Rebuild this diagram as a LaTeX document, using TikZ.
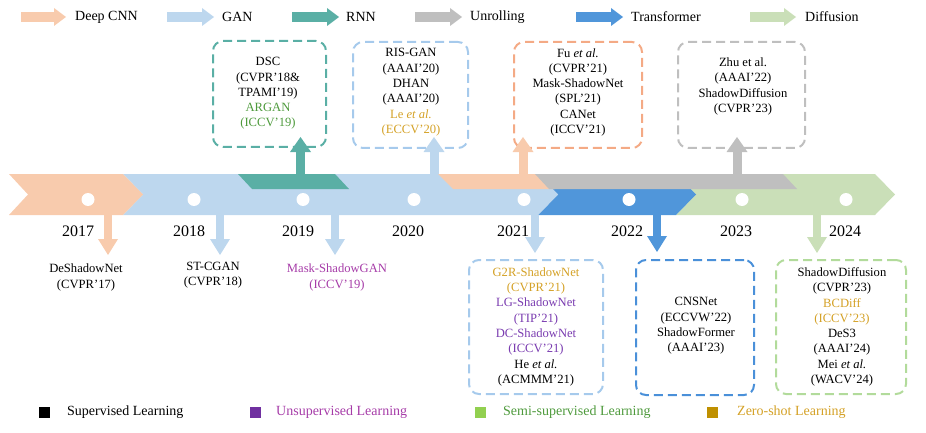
\documentclass[tikz,border=0pt]{standalone}
\usepackage{fontspec}
\setmainfont{Liberation Serif}
\usetikzlibrary{arrows.meta}
\definecolor{cnn}{HTML}{F8CBAD}
\definecolor{gan}{HTML}{BDD7EE}
\definecolor{rnn}{HTML}{5AAFA5}
\definecolor{unr}{HTML}{BFBFBF}
\definecolor{trf}{HTML}{5096DA}
\definecolor{dif}{HTML}{CADFB8}
\definecolor{cnnB}{HTML}{F4AA85}
\definecolor{ganB}{HTML}{A6CAEC}
\definecolor{trfB}{HTML}{4A90D9}
\definecolor{difB}{HTML}{B2DB9B}
\definecolor{unsup}{HTML}{A63CA8}
\definecolor{unsupSq}{HTML}{7030A0}
\definecolor{semi}{HTML}{4E9A3C}
\definecolor{semiSq}{HTML}{92D050}
\definecolor{zero}{HTML}{D4A126}
\definecolor{zeroSq}{HTML}{BF9000}
\definecolor{purp}{HTML}{7A3CB0}
\begin{document}
\begin{tikzpicture}[x=1pt,y=-1pt,
  boxframe/.style={draw, line width=2pt, dash pattern=on 9pt off 5pt, rounded corners=10pt, inner sep=0pt},
  boxtext/.style={align=center, inner sep=0pt, font=\fontsize{12.6}{15.3}\selectfont},
  yeartext/.style={inner sep=0pt, font=\fontsize{16}{18}\selectfont},
  legtext/.style={anchor=west, inner sep=0pt, font=\fontsize{14}{16}\selectfont},
  uparrow/.style={line width=9pt, -{Triangle[width=21pt,length=15pt,line width=0pt]}},
  downarrow/.style={line width=8.5pt, -{Triangle[width=20pt,length=16pt,line width=0pt]}},
  legarrow/.style={line width=10pt, -{Triangle[width=18pt,length=12pt,line width=0pt]}},
  sq/.style={minimum size=11pt, inner sep=0pt},
  dot/.style={circle, fill=white, minimum size=13pt, inner sep=0pt}]
\useasboundingbox (0,0) rectangle (926,433);

% ---------- top legend ----------
\coordinate (l1a) at (21,17);  \coordinate (l1b) at (66,17);
\coordinate (l2a) at (167,17); \coordinate (l2b) at (214,17);
\coordinate (l3a) at (292,17); \coordinate (l3b) at (339,17);
\coordinate (l4a) at (415,17); \coordinate (l4b) at (462,17);
\coordinate (l5a) at (576,17); \coordinate (l5b) at (623,17);
\coordinate (l6a) at (750,17); \coordinate (l6b) at (796,17);
\draw[legarrow, cnn] (l1a) -- (l1b);
\draw[legarrow, gan] (l2a) -- (l2b);
\draw[legarrow, rnn] (l3a) -- (l3b);
\draw[legarrow, unr] (l4a) -- (l4b);
\draw[legarrow, trf] (l5a) -- (l5b);
\draw[legarrow, dif] (l6a) -- (l6b);
\node[legtext] (t1) at (75,17) {Deep CNN};
\node[legtext] (t2) at (222,17) {GAN};
\node[legtext] (t3) at (346,17) {RNN};
\node[legtext] (t4) at (470,17) {Unrolling};
\node[legtext] (t5) at (631,17) {Transformer};
\node[legtext] (t6) at (805,17) {Diffusion};

% ---------- timeline band ----------
\fill[dif] (676,174) -- (875,174) -- (895,194.5) -- (875,215) -- (676,215) -- (696,194.5) -- cycle;
\fill[trf] (538,174) -- (676,174) -- (696,194.5) -- (676,215) -- (538,215) -- (558,194.5) -- cycle;
\fill[gan] (123,174) -- (538,174) -- (558,194.5) -- (538,215) -- (123,215) -- (143,194.5) -- cycle;
\fill[cnn] (9,174) -- (123,174) -- (143,194.5) -- (123,215) -- (9,215) -- (28,194.5) -- cycle;
\fill[rnn] (238,174) -- (335,174) -- (349,189) -- (252,189) -- cycle;
\fill[cnn] (438,174) -- (540,174) -- (555,189) -- (453,189) -- cycle;
\fill[unr] (535,174) -- (783,174) -- (797,189) -- (549,189) -- cycle;

% dots
\node[dot] (d1) at (88,199.5) {};
\node[dot] (d2) at (194,199.5) {};
\node[dot] (d3) at (303,199.5) {};
\node[dot] (d4) at (414,199.5) {};
\node[dot] (d5) at (524,199.5) {};
\node[dot] (d6) at (629,199.5) {};
\node[dot] (d7) at (742,199.5) {};
\node[dot] (d8) at (846,199.5) {};

% years
\node[yeartext] (y1) at (78,231) {2017};
\node[yeartext] (y2) at (189,231) {2018};
\node[yeartext] (y3) at (298,231) {2019};
\node[yeartext] (y4) at (408,231) {2020};
\node[yeartext] (y5) at (513,231) {2021};
\node[yeartext] (y6) at (627,231) {2022};
\node[yeartext] (y7) at (736,231) {2023};
\node[yeartext] (y8) at (845,231) {2024};

% ---------- upper boxes ----------
\node[boxframe, rnn, minimum width=113pt, minimum height=106pt] (bdsc) at (269.5,94) {};
\node[boxframe, ganB, minimum width=115pt, minimum height=106pt] (bris) at (410.5,95) {};
\node[boxframe, cnnB, minimum width=128pt, minimum height=106pt] (bfu) at (578,95) {};
\node[boxframe, unr, minimum width=127pt, minimum height=106pt] (bzhu) at (741.5,95) {};

\node[boxtext] (tdsc) at (268,93.5) {DSC\\(CVPR’18\&\\TPAMI’19)\\\textcolor{semi}{ARGAN}\\\textcolor{semi}{(ICCV’19)}};
\node[boxtext] (tris) at (411,92.3) {RIS-GAN\\(AAAI’20)\\DHAN\\(AAAI’20)\\\textcolor{zero}{Le \textit{et al.}}\\\textcolor{zero}{(ECCV’20)}};
\node[boxtext] (tfu) at (578,92.3) {Fu \textit{et al.}\\(CVPR’21)\\Mask-ShadowNet\\(SPL’21)\\CANet\\(ICCV’21)};
\node[boxtext] (tzhu) at (743,86.5) {Zhu et al.\\(AAAI’22)\\ShadowDiffusion\\(CVPR’23)};

% up arrows
\coordinate (u1a) at (300.5,174); \coordinate (u1b) at (300.5,137);
\coordinate (u2a) at (434,174);   \coordinate (u2b) at (434,137);
\coordinate (u3a) at (523,174);   \coordinate (u3b) at (523,137);
\coordinate (u4a) at (737,174);   \coordinate (u4b) at (737,137);
\draw[uparrow, rnn] (u1a) -- (u1b);
\draw[uparrow, gan] (u2a) -- (u2b);
\draw[uparrow, cnn] (u3a) -- (u3b);
\draw[uparrow, unr] (u4a) -- (u4b);

% down arrows
\coordinate (w1a) at (108,215); \coordinate (w1b) at (108,255);
\coordinate (w2a) at (220,215); \coordinate (w2b) at (220,255);
\coordinate (w3a) at (335,215); \coordinate (w3b) at (335,255);
\coordinate (w4a) at (535,215); \coordinate (w4b) at (535,253);
\coordinate (w5a) at (657,215); \coordinate (w5b) at (657,252);
\coordinate (w6a) at (817,215); \coordinate (w6b) at (817,253);
\draw[downarrow, cnn] (w1a) -- (w1b);
\draw[downarrow, gan] (w2a) -- (w2b);
\draw[downarrow, gan] (w3a) -- (w3b);
\draw[downarrow, gan] (w4a) -- (w4b);
\draw[downarrow, trf] (w5a) -- (w5b);
\draw[downarrow, dif] (w6a) -- (w6b);

% ---------- lower labels ----------
\node[boxtext] (tdesh) at (86,277.5) {DeShadowNet\\(CVPR’17)};
\node[boxtext] (tstc) at (213,275.5) {ST-CGAN\\(CVPR’18)};
\node[boxtext, text=unsup] (tmsg) at (337,277.5) {Mask-ShadowGAN\\(ICCV’19)};

% ---------- lower boxes ----------
\node[boxframe, ganB, minimum width=134pt, minimum height=134pt] (bg2r) at (536,327) {};
\node[boxframe, trfB, minimum width=118pt, minimum height=135pt] (bcns) at (695,327.5) {};
\node[boxframe, difB, minimum width=130pt, minimum height=134pt] (bsd) at (841,327) {};

\node[boxtext] (tg2r) at (536,326.9) {\textcolor{zero}{G2R-ShadowNet}\\\textcolor{zero}{(CVPR’21)}\\\textcolor{purp}{LG-ShadowNet}\\\textcolor{purp}{(TIP’21)}\\\textcolor{purp}{DC-ShadowNet}\\\textcolor{purp}{(ICCV’21)}\\He \textit{et al.}\\(ACMMM’21)};
\node[boxtext] (tcns) at (696,326) {CNSNet\\(ECCVW’22)\\ShadowFormer\\(AAAI’23)};
\node[boxtext] (tsd) at (842,326.9) {ShadowDiffusion\\(CVPR’23)\\\textcolor{zero}{BCDiff}\\\textcolor{zero}{(ICCV’23)}\\DeS3\\(AAAI’24)\\Mei \textit{et al.}\\(WACV’24)};

% ---------- bottom legend ----------
\node[sq, fill=black] (s1) at (44,412.5) {};
\node[sq, fill=unsupSq] (s2) at (255.5,412.5) {};
\node[sq, fill=semiSq] (s3) at (480.5,412.5) {};
\node[sq, fill=zeroSq] (s4) at (712.5,412.5) {};
\node[legtext] (g1) at (67,412.5) {Supervised Learning};
\node[legtext, text=unsup] (g2) at (276,412.5) {Unsupervised Learning};
\node[legtext, text=semi] (g3) at (503,412.5) {Semi-supervised Learning};
\node[legtext, text=zero] (g4) at (737,412.5) {Zero-shot Learning};
\end{tikzpicture}
\end{document}
